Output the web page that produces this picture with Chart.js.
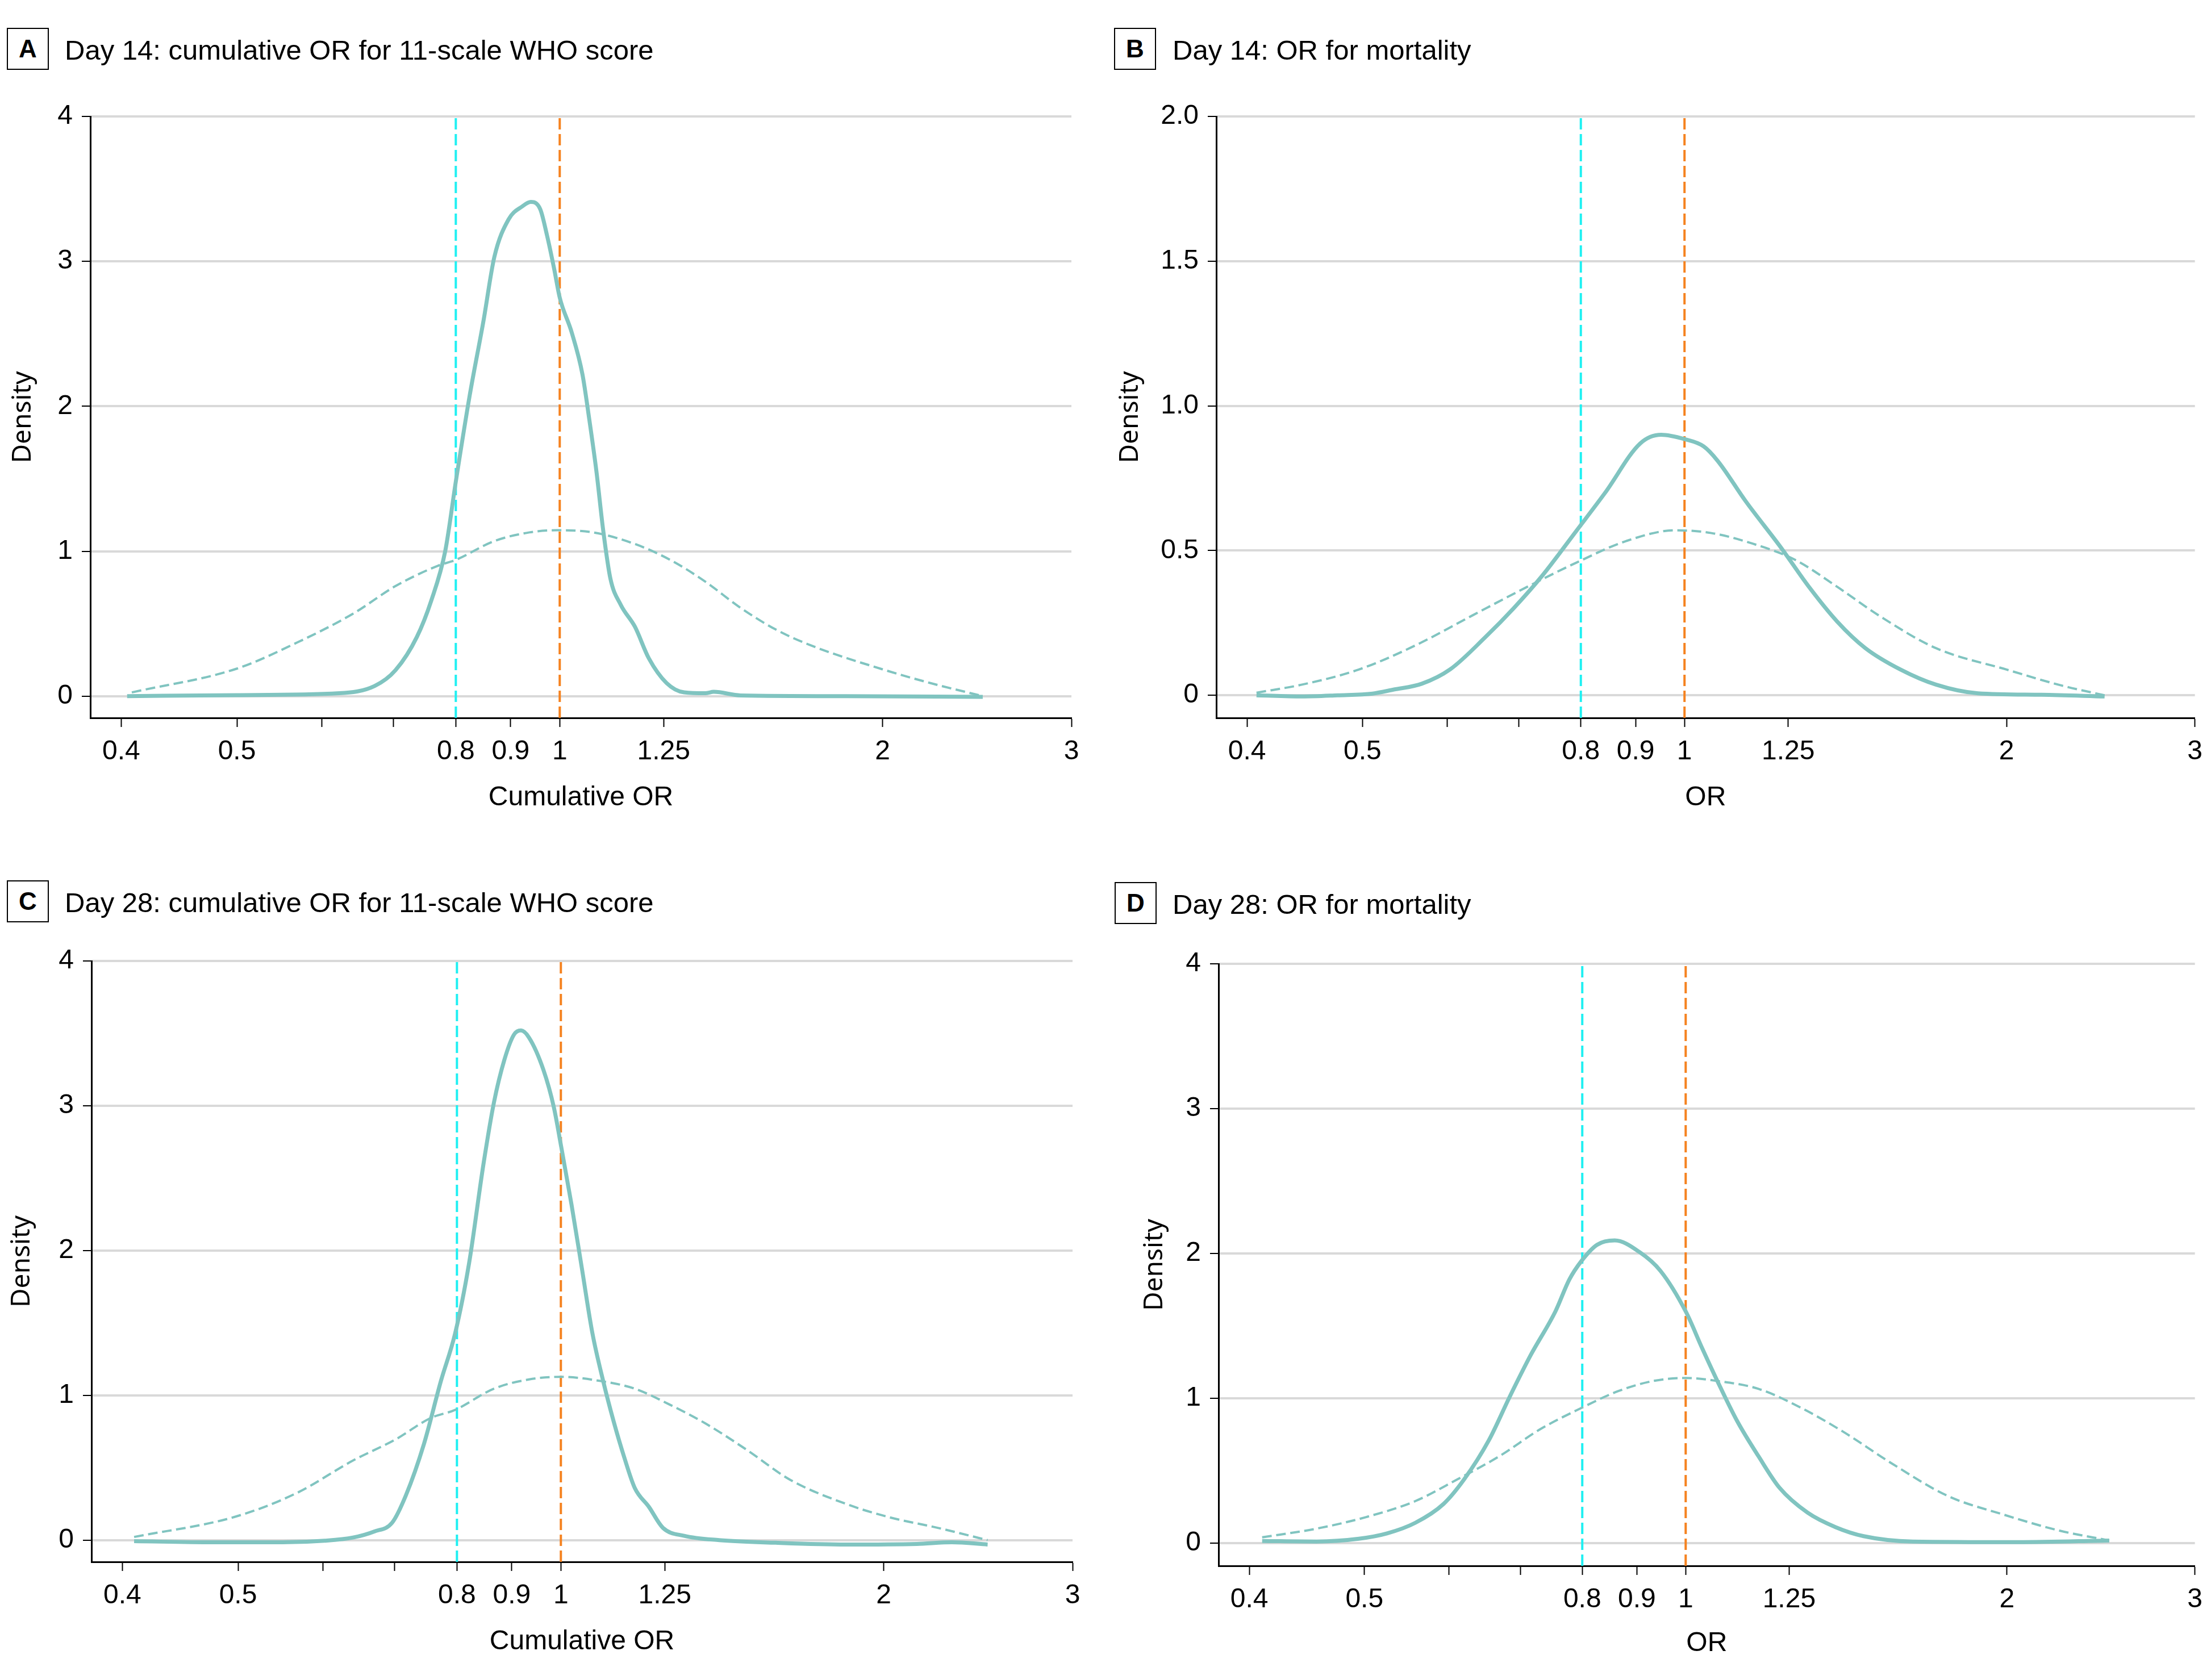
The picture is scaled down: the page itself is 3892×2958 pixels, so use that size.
<!DOCTYPE html>
<html>
<head>
<meta charset="utf-8">
<script src="https://cdn.jsdelivr.net/npm/chart.js@4.4.1/dist/chart.umd.min.js"></script>
<style>
  html, body { margin: 0; padding: 0; background: #fff; }
  body { width: 3892px; height: 2958px; position: relative; overflow: hidden; }
  canvas { position: absolute; }
  .box {
    position: absolute; width: 70px; height: 70px; border: 2px solid #000;
    font: bold 44px "Liberation Sans", Arial, sans-serif; line-height: 70px; text-align: center;
  }
  .titre {
    position: absolute; font: 49px "Liberation Sans", Arial, sans-serif; line-height: 74px;
    white-space: nowrap; color: #000;
  }
</style>
</head>
<body>
<div class="box" style="left:12px;top:49px">A</div>
<div class="titre" style="left:114px;top:51px">Day 14: cumulative OR for 11-scale WHO score</div>
<div class="box" style="left:1961px;top:49px">B</div>
<div class="titre" style="left:2064px;top:51px">Day 14: OR for mortality</div>
<div class="box" style="left:12px;top:1550px">C</div>
<div class="titre" style="left:114px;top:1552px">Day 28: cumulative OR for 11-scale WHO score</div>
<div class="box" style="left:1962px;top:1553px">D</div>
<div class="titre" style="left:2064px;top:1555px">Day 28: OR for mortality</div>

<canvas id="chartA" width="1946" height="1479" style="left:0;top:0"></canvas>
<canvas id="chartB" width="1946" height="1479" style="left:1946px;top:0"></canvas>
<canvas id="chartC" width="1946" height="1479" style="left:0;top:1479px"></canvas>
<canvas id="chartD" width="1946" height="1479" style="left:1946px;top:1479px"></canvas>

<script>
//? Axes communs (la graduation "0.4" est posée un peu à gauche, comme sur la figure).
const xTickValues = [0.39, 0.5, 0.6, 0.7, 0.8, 0.9, 1, 1.25, 2, 3];
const xTickLabels = ["0.4", "0.5", "", "", "0.8", "0.9", "1", "1.25", "2", "3"];
const yTicks4 = [0, 1, 2, 3, 4];
const yTicks4Labels = ["0", "1", "2", "3", "4"];
const yTicks2 = [0, 0.5, 1, 1.5, 2];
const yTicks2Labels = ["0", "0.5", "1.0", "1.5", "2.0"];
const refLow = 0.8;
const refNull = 1;

//? A - Day 14 cumulative OR.
const aPostOR = [0.395, 0.5, 0.623, 0.672, 0.703, 0.736, 0.759, 0.782, 0.8, 0.824, 0.849, 0.869, 0.896, 0.923, 0.94, 0.959, 0.973, 0.988, 1.0, 1.026, 1.05, 1.065, 1.082, 1.098, 1.115, 1.14, 1.175, 1.211, 1.258, 1.306, 1.367, 1.392, 1.474, 1.85, 2.48];
const aPostDens = [0, 0.007, 0.02, 0.07, 0.18, 0.41, 0.66, 1.0, 1.48, 2.07, 2.59, 3.03, 3.29, 3.38, 3.41, 3.36, 3.18, 2.95, 2.75, 2.51, 2.22, 1.92, 1.55, 1.14, 0.81, 0.63, 0.48, 0.26, 0.09, 0.026, 0.02, 0.03, 0.005, 0, -0.005];
const aPriorOR = [0.399, 0.5, 0.569, 0.642, 0.703, 0.77, 0.8, 0.869, 0.937, 0.995, 1.074, 1.175, 1.268, 1.367, 1.474, 1.59, 1.715, 2.0, 2.217, 2.48];
const aPriorDens = [0.026, 0.19, 0.37, 0.57, 0.76, 0.9, 0.94, 1.07, 1.13, 1.145, 1.13, 1.05, 0.94, 0.79, 0.61, 0.46, 0.35, 0.185, 0.09, 0];

//? B - Day 14 mortality.
const bPostOR = [0.398, 0.439, 0.474, 0.511, 0.535, 0.568, 0.604, 0.651, 0.692, 0.735, 0.793, 0.843, 0.909, 0.951, 1.0, 1.042, 1.074, 1.141, 1.231, 1.307, 1.389, 1.476, 1.592, 1.718, 1.881, 2.156, 2.47];
const bPostDens = [0, -0.004, 0, 0.006, 0.02, 0.04, 0.09, 0.2, 0.3, 0.41, 0.57, 0.7, 0.87, 0.9, 0.885, 0.86, 0.81, 0.67, 0.51, 0.375, 0.255, 0.163, 0.089, 0.037, 0.007, 0.002, -0.004];
const bPriorOR = [0.398, 0.439, 0.496, 0.56, 0.632, 0.713, 0.793, 0.882, 0.98, 1.058, 1.158, 1.269, 1.389, 1.522, 1.718, 2.0, 2.256, 2.47];
const bPriorDens = [0.009, 0.037, 0.089, 0.172, 0.274, 0.375, 0.459, 0.533, 0.57, 0.561, 0.524, 0.468, 0.375, 0.274, 0.163, 0.089, 0.033, 0];

//? C - Day 28 cumulative OR.
const cPostOR = [0.4, 0.474, 0.55, 0.602, 0.64, 0.67, 0.696, 0.717, 0.745, 0.773, 0.797, 0.821, 0.847, 0.866, 0.886, 0.904, 0.918, 0.934, 0.963, 0.985, 1.0, 1.023, 1.046, 1.07, 1.095, 1.12, 1.146, 1.172, 1.208, 1.245, 1.303, 1.405, 1.586, 1.845, 2.147, 2.316, 2.5];
const cPostDens = [-0.007, -0.015, -0.015, -0.004, 0.018, 0.06, 0.12, 0.31, 0.66, 1.1, 1.43, 1.91, 2.6, 3.02, 3.32, 3.49, 3.52, 3.47, 3.25, 2.99, 2.73, 2.32, 1.88, 1.43, 1.1, 0.82, 0.57, 0.36, 0.23, 0.085, 0.03, 0, -0.018, -0.03, -0.026, -0.015, -0.03];
const cPriorOR = [0.4, 0.496, 0.567, 0.64, 0.701, 0.756, 0.797, 0.866, 0.934, 1.0, 1.087, 1.172, 1.264, 1.364, 1.493, 1.635, 1.845, 2.02, 2.246, 2.5];
const cPriorDens = [0.022, 0.16, 0.325, 0.55, 0.695, 0.843, 0.9, 1.046, 1.11, 1.128, 1.1, 1.046, 0.935, 0.806, 0.62, 0.418, 0.25, 0.16, 0.085, 0];

//? D - Day 28 mortality.
const dPostOR = [0.401, 0.451, 0.494, 0.525, 0.558, 0.593, 0.62, 0.654, 0.684, 0.716, 0.755, 0.778, 0.799, 0.826, 0.858, 0.905, 0.947, 1.0, 1.037, 1.077, 1.118, 1.17, 1.225, 1.301, 1.382, 1.468, 1.632, 2.048, 2.494];
const dPostDens = [0.015, 0.011, 0.03, 0.067, 0.14, 0.27, 0.44, 0.71, 1.01, 1.3, 1.6, 1.82, 1.95, 2.06, 2.09, 2.01, 1.88, 1.6, 1.34, 1.08, 0.84, 0.6, 0.38, 0.21, 0.11, 0.048, 0.011, 0.007, 0.018];
const dPriorOR = [0.401, 0.451, 0.502, 0.558, 0.611, 0.669, 0.732, 0.797, 0.865, 0.933, 1.0, 1.069, 1.17, 1.282, 1.404, 1.56, 1.761, 1.987, 2.243, 2.494];
const dPriorDens = [0.04, 0.1, 0.18, 0.29, 0.44, 0.6, 0.79, 0.93, 1.05, 1.12, 1.14, 1.12, 1.065, 0.935, 0.77, 0.55, 0.325, 0.196, 0.085, 0.018];

//? -------------------------------------------------

const TEAL = "#80c4c0";
const CYAN = "#1ff0f2";
const ORANGE = "#f5821f";

const toPoints = (xs, ys) => xs.map((x, i) => ({ x, y: ys[i] }));

Chart.defaults.font.family = '"Liberation Sans", Arial, sans-serif';
Chart.defaults.color = "#000";

const construireGraphique = (p) => {
  const ctx = document.getElementById(p.id).getContext("2d");
  const refLine = (x, color) => ({
    data: [{ x, y: p.yMin }, { x, y: p.yTicks[p.yTicks.length - 1] }],
    borderColor: color,
    borderWidth: 4,
    borderDash: [20, 8],
    pointRadius: 0,
    tension: 0,
  });

  new Chart(ctx, {
    type: "line",
    data: {
      datasets: [
        {
          data: toPoints(p.priorOR, p.priorDens),
          borderColor: TEAL,
          borderWidth: 4,
          borderDash: [17, 8],
          pointRadius: 0,
          cubicInterpolationMode: "monotone",
        },
        {
          data: toPoints(p.postOR, p.postDens),
          borderColor: TEAL,
          borderWidth: 7,
          pointRadius: 0,
          cubicInterpolationMode: "monotone",
        },
        refLine(refLow, CYAN),
        refLine(refNull, ORANGE),
      ],
    },
    options: {
      responsive: false,
      animation: false,
      devicePixelRatio: 1,
      layout: { padding: { left: p.padLeft, top: p.top, right: 1946 - p.right, bottom: p.padBottom } },
      plugins: { legend: { display: false }, tooltip: { enabled: false } },
      scales: {
        x: {
          type: "logarithmic",
          min: 0.365,
          max: 3,
          afterBuildTicks: (scale) => {
            scale.ticks = xTickValues.map((v) => ({ value: v }));
          },
          afterFit: (scale) => {
            scale.height = 1479 - p.padBottom - p.bottom;
          },
          ticks: {
            autoSkip: false,
            maxRotation: 0,
            minRotation: 0,
            padding: 15,
            font: { size: 48 },
            callback: (v, i) => xTickLabels[i],
          },
          grid: { drawOnChartArea: false, tickLength: 16, tickColor: "#000", tickWidth: 2 },
          border: { color: "#000", width: 3 },
          title: { display: true, text: p.xTitle, font: { size: 48 }, padding: 0 },
        },
        y: {
          min: p.yMin,
          max: p.yTicks[p.yTicks.length - 1],
          afterBuildTicks: (scale) => {
            scale.ticks = p.yTicks.map((v) => ({ value: v }));
          },
          afterFit: (scale) => {
            scale.width = p.left - p.padLeft;
          },
          ticks: {
            padding: 16,
            font: { size: 48 },
            callback: (v, i) => p.yLabels[i],
          },
          grid: { color: "#d9d9d9", lineWidth: 4, tickLength: 15, tickColor: "#000", tickWidth: 2 },
          border: { color: "#000", width: 3 },
          title: {
            display: true,
            text: "Density",
            font: { family: '"Noto Sans", sans-serif', size: 46 },
            padding: { top: 3, bottom: 0 },
          },
        },
      },
    },
  });
};

const panneaux = [
  { id: "chartA", postOR: aPostOR, postDens: aPostDens, priorOR: aPriorOR, priorDens: aPriorDens,
    yTicks: yTicks4, yLabels: yTicks4Labels, yMin: -0.15, xTitle: "Cumulative OR",
    left: 159, right: 1886, top: 205, bottom: 1264, padLeft: 10, padBottom: 45 },
  { id: "chartB", postOR: bPostOR, postDens: bPostDens, priorOR: bPriorOR, priorDens: bPriorDens,
    yTicks: yTicks2, yLabels: yTicks2Labels, yMin: -0.078, xTitle: "OR",
    left: 195, right: 1921, top: 205, bottom: 1264, padLeft: 13, padBottom: 45 },
  { id: "chartC", postOR: cPostOR, postDens: cPostDens, priorOR: cPriorOR, priorDens: cPriorDens,
    yTicks: yTicks4, yLabels: yTicks4Labels, yMin: -0.15, xTitle: "Cumulative OR",
    left: 161, right: 1888, top: 213, bottom: 1271, padLeft: 8, padBottom: 38 },
  { id: "chartD", postOR: dPostOR, postDens: dPostDens, priorOR: dPriorOR, priorDens: dPriorDens,
    yTicks: yTicks4, yLabels: yTicks4Labels, yMin: -0.157, xTitle: "OR",
    left: 199, right: 1926, top: 218, bottom: 1278, padLeft: 56, padBottom: 35 },
];

panneaux.forEach((p) => {
  try {
    construireGraphique(p);
  } catch (error) {
    console.log("ERREUR | Construction graphique " + p.id, error);
  }
});
</script>
</body>
</html>
